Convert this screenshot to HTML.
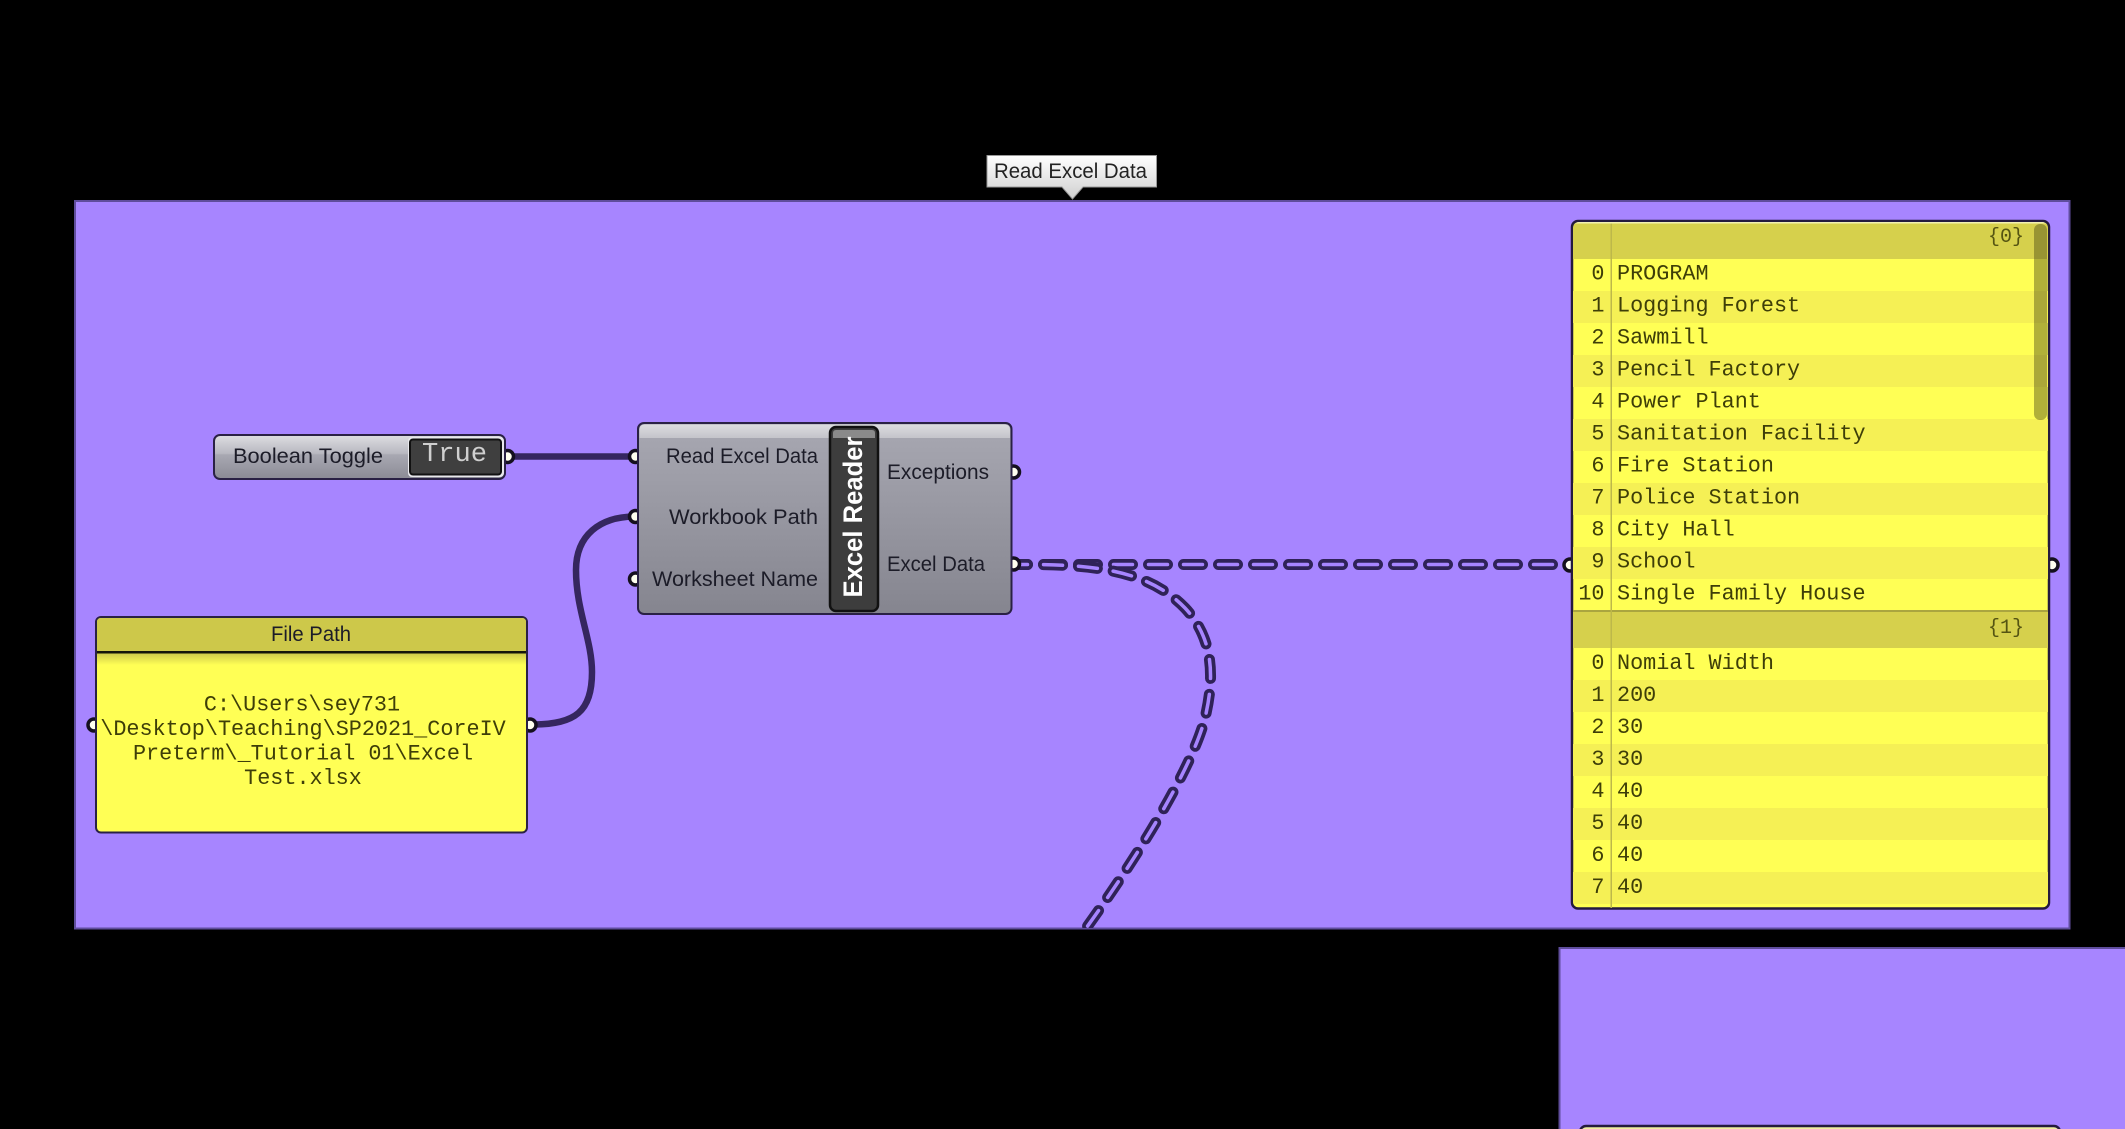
<!DOCTYPE html>
<html>
<head>
<meta charset="utf-8">
<style>
html,body{margin:0;padding:0;background:#000;}
svg{display:block;}
.s{font-family:"Liberation Sans",sans-serif;fill:#1c1c28;}
.m{font-family:"Liberation Mono",monospace;font-size:21.8px;fill:#3e3e08;}
</style>
</head>
<body>
<svg xmlns="http://www.w3.org/2000/svg" width="2125" height="1129" viewBox="0 0 2125 1129">
<defs>
<linearGradient id="g" x1="0" y1="0" x2="0" y2="1">
<stop offset="0" stop-color="#a8a8b2"/><stop offset="1" stop-color="#85858f"/>
</linearGradient>
<linearGradient id="gt" x1="0" y1="0" x2="0" y2="1">
<stop offset="0" stop-color="#dcdce0"/><stop offset="1" stop-color="#c4c4ca"/>
</linearGradient>
<linearGradient id="tg" x1="0" y1="0" x2="0" y2="1">
<stop offset="0" stop-color="#dedee2"/><stop offset=".42" stop-color="#b8b8c0"/><stop offset=".45" stop-color="#a8a8b2"/><stop offset="1" stop-color="#8b8b95"/>
</linearGradient>
<linearGradient id="tip" x1="0" y1="0" x2="0" y2="1">
<stop offset="0" stop-color="#ffffff"/><stop offset="1" stop-color="#cfcfcf"/>
</linearGradient>
<linearGradient id="hs" x1="0" y1="0" x2="0" y2="1">
<stop offset="0" stop-color="#cdc84a"/><stop offset="1" stop-color="#ffff55"/>
</linearGradient>
<clipPath id="grp"><rect x="75" y="201" width="1994" height="727"/></clipPath>
<clipPath id="lp"><rect x="1573" y="222" width="475" height="686" rx="6"/></clipPath>
</defs>

<rect width="2125" height="1129" fill="#000"/>

<!-- groups -->
<rect x="75" y="201" width="1994.5" height="727.5" fill="#a785ff" stroke="#5f4d9c" stroke-width="2"/>
<rect x="1559.5" y="948" width="600" height="200" fill="#a785ff" stroke="#5f4d9c" stroke-width="2"/>

<!-- bottom clipped panel -->
<rect x="1580" y="1126" width="480" height="20" rx="6" fill="#f0eea0" stroke="#241a3e" stroke-width="2.5"/>

<!-- tooltip -->
<path d="M987 155.500H1156.500V187H1083L1072.500 199L1062 187H987Z" fill="url(#tip)" stroke="#999" stroke-width="1"/>
<text x="994" y="178" class="s" font-size="21" textLength="153" lengthAdjust="spacingAndGlyphs" style="fill:#222">Read Excel Data</text>

<!-- wires -->
<g fill="none" clip-path="url(#grp)">
<path d="M509 456.500H635" stroke="#35265f" stroke-width="6.500"/>
<path d="M534 724.500C575 724 592 712 592 672C592 640 576 610 576 570C576 535 600 517 634 516.500" stroke="#35265f" stroke-width="6.500"/>
<g stroke-linecap="round" stroke-dasharray="19 16">
<path d="M1008.500 564.500H1562" stroke="#2f2258" stroke-width="11"/>
<path d="M1008.500 564.500H1562" stroke="#a785ff" stroke-width="3.500"/>
<path d="M1008.500 564.500H1028C1100 564.500 1150 572 1185 608C1215 640 1214 680 1205 718C1193 765 1143 850 1079 938" stroke="#2f2258" stroke-width="11"/>
<path d="M1008.500 564.500H1028C1100 564.500 1150 572 1185 608C1215 640 1214 680 1205 718C1193 765 1143 850 1079 938" stroke="#a785ff" stroke-width="3.500"/>
</g>
</g>

<!-- ports -->
<g fill="#fffff0" stroke="#15101f" stroke-width="3.500">
<circle cx="507.500" cy="456.500" r="6"/>
<circle cx="635.500" cy="456.500" r="6"/>
<circle cx="635.500" cy="516.500" r="6"/>
<circle cx="635.500" cy="579" r="6"/>
<circle cx="1013.500" cy="472" r="6"/>
<circle cx="1013.500" cy="564" r="6"/>
<circle cx="94" cy="725" r="6"/>
<circle cx="530" cy="725" r="6"/>
<circle cx="1570" cy="565" r="6"/>
<circle cx="2052" cy="565" r="6"/>
</g>

<!-- Boolean Toggle -->
<rect x="214" y="435" width="291" height="44" rx="6" fill="url(#tg)" stroke="#2a2145" stroke-width="2"/>
<rect x="408" y="437" width="96" height="40" rx="4" fill="#e8e8ec" stroke="none"/>
<rect x="410" y="439.500" width="91" height="35" rx="3" fill="#3f3f3f" stroke="#111" stroke-width="2"/>
<text x="233" y="463" class="s" font-size="21" textLength="150" lengthAdjust="spacingAndGlyphs">Boolean Toggle</text>
<text x="422" y="461" font-family="Liberation Mono, monospace" font-size="27" fill="#cfcfcf" textLength="65" lengthAdjust="spacingAndGlyphs">True</text>

<!-- Excel Reader component -->
<rect x="638" y="423" width="373.500" height="191" rx="6" fill="url(#g)" stroke="#2a2145" stroke-width="2"/>
<path d="M639.500 438V430Q639.500 424.500 645 424.500H1004Q1010 424.500 1010 430V438Z" fill="url(#gt)"/>
<rect x="830" y="427" width="48" height="184" rx="6" fill="#3d3d3d" stroke="#111" stroke-width="2.500"/>
<path d="M833 438V433Q833 430 836 430H872Q875 430 875 433V438Z" fill="#8a8a8a"/>
<text transform="translate(862 597.500) rotate(-90)" font-family="Liberation Sans, sans-serif" font-weight="700" font-size="27" fill="#fff" textLength="161" lengthAdjust="spacingAndGlyphs">Excel Reader</text>
<text x="666" y="463" class="s" font-size="21" textLength="152" lengthAdjust="spacingAndGlyphs">Read Excel Data</text>
<text x="669" y="524" class="s" font-size="21" textLength="149" lengthAdjust="spacingAndGlyphs">Workbook Path</text>
<text x="652" y="586" class="s" font-size="21" textLength="166" lengthAdjust="spacingAndGlyphs">Worksheet Name</text>
<text x="887" y="479" class="s" font-size="21" textLength="102" lengthAdjust="spacingAndGlyphs">Exceptions</text>
<text x="887" y="571" class="s" font-size="21" textLength="98" lengthAdjust="spacingAndGlyphs">Excel Data</text>

<!-- File Path panel -->
<rect x="96" y="617" width="431" height="215.500" rx="5" fill="#ffff55" stroke="#2a2145" stroke-width="2"/>
<path d="M97 651.500V622Q97 618 101 618H522Q526 618 526 622V651.500Z" fill="#cdc84a"/>
<rect x="97" y="653" width="429" height="12" fill="url(#hs)"/>
<rect x="97" y="651" width="429" height="2.500" fill="#15150a"/>
<text x="311" y="641" class="s" font-size="21" text-anchor="middle" textLength="80" lengthAdjust="spacingAndGlyphs">File Path</text>
<g class="m" text-anchor="middle">
<text x="302" y="710.500">C:\Users\sey731</text>
<text x="303" y="735">\Desktop\Teaching\SP2021_CoreIV</text>
<text x="303" y="759.500">Preterm\_Tutorial 01\Excel</text>
<text x="303" y="784">Test.xlsx</text>
</g>

<!-- List panel -->
<rect x="1572" y="221" width="477" height="687.500" rx="6" fill="#ffff55" stroke="#241a3e" stroke-width="2.500"/>
<g clip-path="url(#lp)">
<rect x="1573" y="222" width="475" height="37" fill="#d6d04c"/>
<g fill="#f5f055">
<rect x="1573" y="291" width="475" height="32"/>
<rect x="1573" y="355" width="475" height="32"/>
<rect x="1573" y="419" width="475" height="32"/>
<rect x="1573" y="483" width="475" height="32"/>
<rect x="1573" y="547" width="475" height="32"/>
<rect x="1573" y="680" width="475" height="32"/>
<rect x="1573" y="744" width="475" height="32"/>
<rect x="1573" y="808" width="475" height="32"/>
<rect x="1573" y="872" width="475" height="32"/>
</g>
<rect x="1573" y="611" width="475" height="37" fill="#d6d04c"/>
<rect x="1573" y="610" width="475" height="2" fill="#aaa53f"/>
<rect x="1610.500" y="222" width="1.500" height="686" fill="#bdb84a"/>
<rect x="2034" y="224" width="13" height="196" rx="6" fill="#3b3a10" fill-opacity=".4"/>
<rect x="1573" y="222" width="475" height="1.500" fill="#f2f0b0"/>
</g>
<g class="m">
<text x="2024" y="242" text-anchor="end" font-size="20" fill-opacity=".85">{0}</text>
<text x="2024" y="633" text-anchor="end" font-size="20" fill-opacity=".85">{1}</text>
<g text-anchor="end">
<text x="1604.500" y="279.500">0</text><text x="1604.500" y="311.500">1</text><text x="1604.500" y="343.500">2</text><text x="1604.500" y="375.500">3</text><text x="1604.500" y="407.500">4</text><text x="1604.500" y="439.500">5</text><text x="1604.500" y="471.500">6</text><text x="1604.500" y="503.500">7</text><text x="1604.500" y="535.500">8</text><text x="1604.500" y="567.500">9</text><text x="1604.500" y="599.500">10</text>
<text x="1604.500" y="669">0</text><text x="1604.500" y="701">1</text><text x="1604.500" y="733">2</text><text x="1604.500" y="765">3</text><text x="1604.500" y="797">4</text><text x="1604.500" y="829">5</text><text x="1604.500" y="861">6</text><text x="1604.500" y="893">7</text>
</g>
<text x="1617" y="279.500">PROGRAM</text>
<text x="1617" y="311.500">Logging Forest</text>
<text x="1617" y="343.500">Sawmill</text>
<text x="1617" y="375.500">Pencil Factory</text>
<text x="1617" y="407.500">Power Plant</text>
<text x="1617" y="439.500">Sanitation Facility</text>
<text x="1617" y="471.500">Fire Station</text>
<text x="1617" y="503.500">Police Station</text>
<text x="1617" y="535.500">City Hall</text>
<text x="1617" y="567.500">School</text>
<text x="1617" y="599.500">Single Family House</text>
<text x="1617" y="669">Nomial Width</text>
<text x="1617" y="701">200</text>
<text x="1617" y="733">30</text>
<text x="1617" y="765">30</text>
<text x="1617" y="797">40</text>
<text x="1617" y="829">40</text>
<text x="1617" y="861">40</text>
<text x="1617" y="893">40</text>
</g>
</svg>
</body>
</html>
